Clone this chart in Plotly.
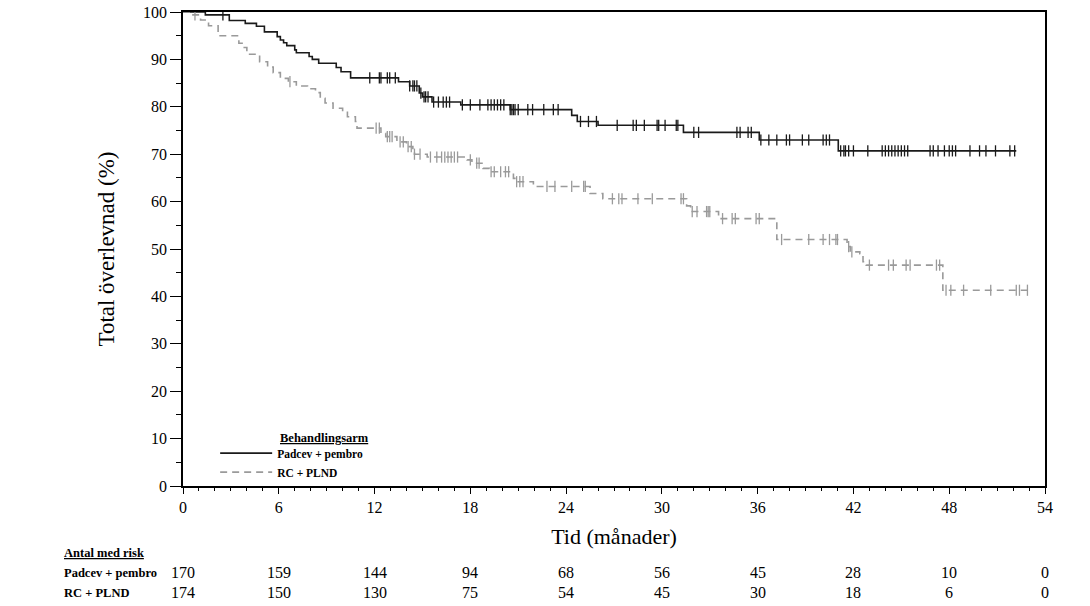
import numpy as np
import plotly.graph_objects as go

FONT = "Liberation Serif"

# Padcev + pembro: step times (months) and survival (%)
pad_t = [0, 1.4, 2.9, 3.9, 4.6, 5.1, 5.9, 6.1, 6.3, 6.5, 7.0, 7.1, 7.9, 8.1, 8.5,
         9.6, 9.9, 10.5, 13.5, 14.2, 14.8, 15.0, 15.6, 17.4, 20.5, 24.35, 24.7,
         26.0, 31.35, 36.1, 41.05]
pad_s = [100, 99.4, 98.2, 97.6, 97.0, 95.8, 94.8, 94.1, 93.5, 92.9, 92.0, 91.4,
         90.6, 90.0, 89.2, 88.3, 87.4, 86.1, 85.3, 84.4, 82.9, 82.1, 81.0, 80.4,
         79.4, 78.2, 76.9, 76.1, 74.6, 73.0, 70.7]
pad_end = 52.2
pad_cens = [2.5, 11.7, 12.3, 12.4, 12.8, 12.95, 13.3, 14.2, 14.4, 14.5, 14.65, 14.9,
            15.1, 15.2, 15.35, 15.7, 16.0, 16.3, 16.5, 16.7, 17.5, 18.0, 18.6, 19.1,
            19.3, 19.5, 19.7, 19.9, 20.1, 20.5, 20.6, 20.7, 20.8, 21.0, 21.6, 21.9,
            22.6, 23.2, 23.5, 24.9, 25.4, 25.9, 27.2, 28.2, 28.4, 28.9, 29.7, 29.8,
            30.2, 30.9, 31.0, 32.0, 32.3, 34.7, 34.9, 35.4, 35.6, 36.2, 36.7, 37.2,
            37.8, 38.0, 38.8, 39.2, 40.1, 40.3, 40.5, 41.2, 41.4, 41.5, 41.7, 42.0,
            42.9, 43.8, 44.0, 44.2, 44.4, 44.6, 44.8, 45.0, 45.2, 45.4, 46.8, 47.0,
            47.3, 47.7, 48.0, 48.2, 48.4, 49.3, 49.9, 50.3, 50.9, 51.8, 52.1]

# RC + PLND
rc_t = [0, 0.5, 1.1, 1.6, 2.2, 3.5, 3.7, 4.0, 4.8, 5.3, 5.65, 6.1, 6.6, 7.1, 7.8,
        8.3, 8.6, 8.9, 9.4, 10.0, 10.3, 10.8, 10.9, 12.4, 12.7, 13.4, 14.0, 14.4,
        14.5, 15.3, 17.8, 18.1, 18.8, 19.2, 20.7, 20.85, 21.95, 25.5, 26.3, 31.55,
        31.8, 33.55, 37.2, 41.6, 41.8, 42.4, 42.6, 42.8, 47.6]
rc_s = [100, 99.4, 98.3, 97.1, 95.0, 93.4, 92.5, 91.1, 89.5, 88.4, 87.2, 86.0, 85.3,
        84.4, 83.8, 83.0, 81.8, 80.8, 79.7, 79.0, 77.9, 76.9, 75.5, 74.4, 73.7, 72.6,
        71.6, 70.5, 70.0, 69.4, 68.8, 68.1, 67.0, 66.3, 64.9, 64.2, 63.2, 61.7, 60.6,
        59.1, 57.9, 56.4, 52.0, 50.5, 49.4, 49.0, 47.3, 46.6, 41.3]
rc_end = 52.9
rc_cens = [0.75, 6.7, 12.1, 12.3, 12.8, 12.95, 13.1, 13.6, 13.8, 14.1, 14.3, 14.5,
           14.85, 15.5, 15.9, 16.2, 16.4, 16.6, 16.8, 17.0, 17.2, 18.0, 18.4, 18.55,
           19.3, 19.5, 19.9, 20.2, 20.4, 20.9, 21.1, 21.3, 22.8, 23.3, 24.35, 25.1,
           25.2, 26.9, 27.3, 27.5, 28.5, 29.4, 31.2, 31.35, 31.9, 32.2, 32.8, 32.9,
           33.0, 33.8, 34.4, 34.6, 35.9, 36.1, 37.5, 39.2, 40.1, 40.5, 40.9, 41.0,
           41.7, 41.9, 43.0, 44.2, 44.5, 45.3, 45.55, 47.2, 47.4, 47.8, 48.1, 48.9,
           50.6, 52.2, 52.4, 52.9]

# numbers at risk
risk_times = [0, 6, 12, 18, 24, 30, 36, 42, 48, 54]
risk_pad = [170, 159, 144, 94, 68, 56, 45, 28, 10, 0]
risk_rc = [174, 150, 130, 75, 54, 45, 30, 18, 6, 0]

BLACK = "#1a1a1a"
GREY = "#9a9a9a"


def step_value(times, surv, at):
    idx = np.searchsorted(times, at, side="right") - 1
    return [surv[i] for i in idx]


fig = go.Figure()

arms = [
    ("Padcev + pembro", pad_t, pad_s, pad_end, pad_cens, BLACK, "solid"),
    ("RC + PLND", rc_t, rc_s, rc_end, rc_cens, GREY, "7px,5px"),
]
for name, t, s, end, cens, col, dash in arms:
    fig.add_trace(go.Scatter(
        x=t + [end], y=s + [s[-1]], mode="lines", name=f"<b>{name}</b>",
        line=dict(color=col, width=1.6, dash=dash, shape="hv"),
        hoverinfo="skip"))
    fig.add_trace(go.Scatter(
        x=cens, y=step_value(t, s, cens), mode="markers", showlegend=False,
        marker=dict(symbol="line-ns", size=8, line=dict(color=col, width=1.3)),
        hoverinfo="skip"))

# legend title
fig.add_annotation(x=0.1102, y=0.1015, xref="paper", yref="paper",
                   text="<u><b>Behandlingsarm</b></u>", showarrow=False,
                   xanchor="left", yanchor="middle",
                   font=dict(family=FONT, size=12.5, color="black"))

# risk table
row_x = -0.1404
fig.add_annotation(x=row_x, y=-0.141, xref="paper", yref="paper",
                   text="<u><b>Antal med risk</b></u>", showarrow=False,
                   xanchor="left", yanchor="middle",
                   font=dict(family=FONT, size=12.5, color="black"))
for label, vals, yy in [("Padcev + pembro", risk_pad, -0.1835),
                        ("RC + PLND", risk_rc, -0.2257)]:
    fig.add_annotation(x=row_x, y=yy, xref="paper", yref="paper",
                       text=f"<b>{label}</b>", showarrow=False,
                       xanchor="left", yanchor="middle",
                       font=dict(family=FONT, size=12.5, color="black"))
    for tt, v in zip(risk_times, vals):
        fig.add_annotation(x=tt, y=yy, xref="x", yref="paper", text=str(v),
                           showarrow=False, xanchor="center", yanchor="middle",
                           font=dict(family=FONT, size=16, color="black"))

axis_common = dict(showline=True, linecolor="black", linewidth=1.5, mirror=True,
                   ticks="outside", tickcolor="black", showgrid=False,
                   zeroline=False, automargin=False,
                   tickfont=dict(family=FONT, size=16, color="black"))

fig.update_layout(
    width=1090, height=606,
    margin=dict(l=183, r=45, t=12, b=120),
    paper_bgcolor="white", plot_bgcolor="white",
    font=dict(family=FONT, color="black"),
    showlegend=True,
    legend=dict(x=0.0373, y=0.1, xanchor="left", yanchor="top",
                bgcolor="rgba(0,0,0,0)", borderwidth=0, itemwidth=52,
                tracegroupgap=0,
                font=dict(family=FONT, size=11.5, color="black")),
    xaxis=dict(range=[0, 54], tick0=0, dtick=6, ticklen=6, tickwidth=1.3,
               minor=dict(dtick=1, ticklen=3, ticks="outside", tickcolor="black"),
               title=dict(text="Tid (månader)", standoff=14,
                          font=dict(family=FONT, size=22, color="black")),
               **axis_common),
    yaxis=dict(range=[0, 100], tick0=0, dtick=10, ticklen=11, tickwidth=1.3,
               minor=dict(dtick=5, ticklen=5, ticks="outside", tickcolor="black"),
               title=dict(text="Total överlevnad (%)", standoff=22,
                          font=dict(family=FONT, size=23, color="black")),
               **axis_common),
)

# drop the browser's default 8px body margin so the figure fills the window
fig.write_html("out.html", config={"displayModeBar": False},
               post_script="document.body.style.margin='0';")
